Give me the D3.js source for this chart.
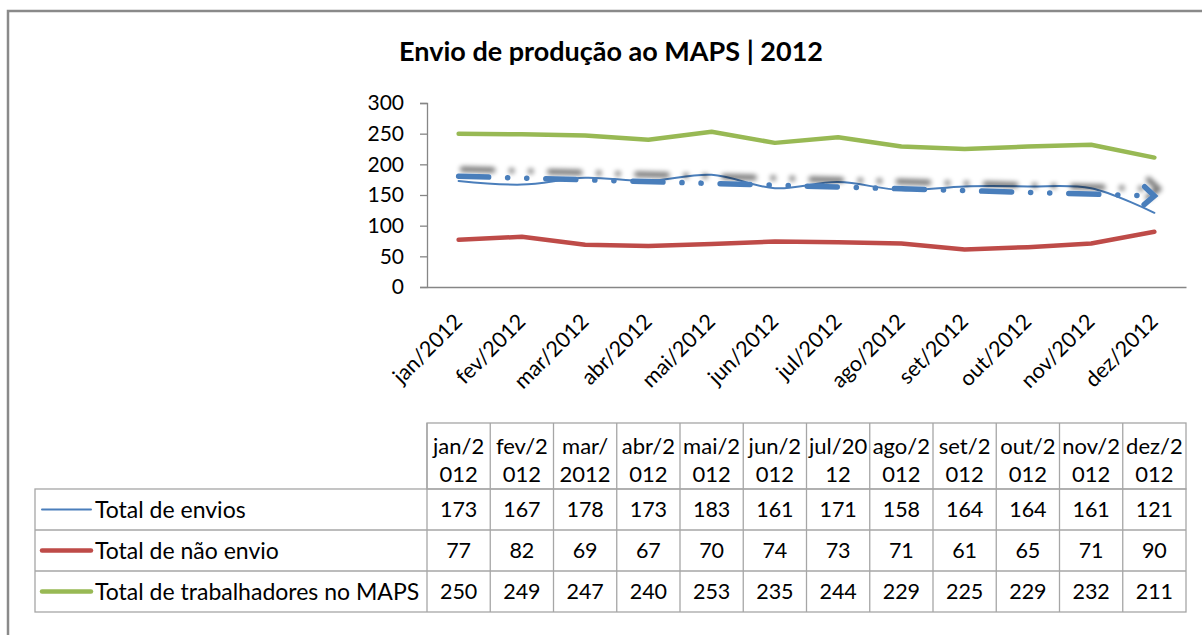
<!DOCTYPE html>
<html><head><meta charset="utf-8">
<script src="https://cdn.jsdelivr.net/npm/d3@7"></script>
<style>
html,body{margin:0;padding:0;background:#fff;}
svg{display:block;font-family:Lato, "Open Sans", sans-serif;}
</style></head>
<body>
<svg id="chart" width="1202" height="635"></svg>
<script>
const months = ["jan/2012","fev/2012","mar/2012","abr/2012","mai/2012","jun/2012","jul/2012","ago/2012","set/2012","out/2012","nov/2012","dez/2012"];
const headerTop = ["jan/2","fev/2","mar/","abr/2","mai/2","jun/2","jul/20","ago/2","set/2","out/2","nov/2","dez/2"];
const headerBottom = ["012","012","2012","012","012","012","12","012","012","012","012","012"];
const totalEnvios = [173,167,178,173,183,161,171,158,164,164,161,121];
const totalNaoEnvio = [77,82,69,67,70,74,73,71,61,65,71,90];
const totalTrabalhadores = [250,249,247,240,253,235,244,229,225,229,232,211];
const yTicks = [0,50,100,150,200,250,300];
const seriesNames = ["Total de envios","Total de não envio","Total de trabalhadores no MAPS"];
const title = "Envio de produção ao MAPS | 2012";

const colors = ["#4a7ebb","#be4b48","#98b954"];
const widths = [2,4.5,4.5];
const seriesData = [totalEnvios,totalNaoEnvio,totalTrabalhadores];

const svg = d3.select("#chart");
const defs = svg.append("defs");
const shadow = defs.append("filter").attr("id","sh").attr("x","-20%").attr("y","-200%").attr("width","140%").attr("height","500%");
shadow.append("feGaussianBlur").attr("in","SourceAlpha").attr("stdDeviation",2.5).attr("result","b");
shadow.append("feOffset").attr("in","b").attr("dx",4).attr("dy",-7).attr("result","o");
shadow.append("feComponentTransfer").attr("in","o").attr("result","o2")
  .append("feFuncA").attr("type","linear").attr("slope",0.55);
const mg = shadow.append("feMerge");
mg.append("feMergeNode").attr("in","o2");
mg.append("feMergeNode").attr("in","SourceGraphic");

// outer frame
svg.append("path").attr("d","M8,635 V11 H1202").attr("fill","none").attr("stroke","#8a8a8a").attr("stroke-width",2.5);

// title
svg.append("text").attr("x",611).attr("y",61).attr("text-anchor","middle")
  .attr("font-weight","bold").attr("font-size",27).attr("fill","#000").text(title);

const x = d3.scaleBand().domain(months).range([427,1186]);
const y = d3.scaleLinear().domain([0,300]).range([287,103]);
const cx = d => x(d) + x.bandwidth()/2;

// y axis
const yAxis = svg.append("g").attr("transform","translate(427,0)")
  .call(d3.axisLeft(y).tickValues(yTicks).tickSize(7).tickPadding(16));
yAxis.select(".domain").attr("stroke","#868686").attr("stroke-width",1.3);
yAxis.selectAll(".tick line").attr("stroke","#868686").attr("stroke-width",1.3);
yAxis.selectAll(".tick text").attr("font-size",21).attr("fill","#000").attr("font-family","Lato");

// x axis
const xAxis = svg.append("g").attr("transform","translate(0,287)")
  .call(d3.axisBottom(x).tickSize(0).tickPadding(0));
xAxis.select(".domain").attr("stroke","#868686").attr("stroke-width",1.3);
xAxis.selectAll(".tick text").attr("font-size",21.5).attr("fill","#000").attr("font-family","Lato")
  .attr("text-anchor","end").attr("dy","0")
  .attr("transform","translate(5,36) rotate(-45)");

// lines
seriesData.forEach((vals,i) => {
  const line = d3.line().x((d,j)=>cx(months[j])).y(d=>y(d));
  if (i===0) line.curve(d3.curveCatmullRom.alpha(0.5));
  svg.append("path").datum(vals).attr("d",line).attr("fill","none")
    .attr("stroke",colors[i]).attr("stroke-width",widths[i])
    .attr("stroke-linejoin","round").attr("stroke-linecap","round");
});

// linear trendline for Total de envios
const n = totalEnvios.length;
const xs = d3.range(1,n+1);
const mx = d3.mean(xs), my = d3.mean(totalEnvios);
const slope = d3.sum(xs.map((xi,i)=>(xi-mx)*(totalEnvios[i]-my))) / d3.sum(xs.map(xi=>(xi-mx)**2));
const trend = xs.map(xi => my + slope*(xi-mx));
const tg = svg.append("g").attr("filter","url(#sh)");
const x0 = cx(months[0]), x1 = cx(months[n-1]);
const y0 = y(trend[0]), y1 = y(trend[n-1]);
const ang = Math.atan2(y1-y0, x1-x0);
const ux = Math.cos(ang), uy = Math.sin(ang);
tg.append("line").attr("x1",x0).attr("y1",y0).attr("x2",x1-14*ux).attr("y2",y1-14*uy)
  .attr("stroke","#4a7ebb").attr("stroke-width",5.5).attr("stroke-linecap","round")
  .attr("stroke-dasharray","30,19,0.1,19,0.1,19");
// open chevron arrow head
const ah = 10, aw = 9;
const bx = x1 - ah*ux, by = y1 - ah*uy;
tg.append("path")
  .attr("d",`M${bx - aw*uy},${by + aw*ux} L${x1},${y1} L${bx + aw*uy},${by - aw*ux}`)
  .attr("fill","none").attr("stroke","#4a7ebb").attr("stroke-width",5.5)
  .attr("stroke-linejoin","miter").attr("stroke-linecap","round");

// data table
const gridColor = "#a6a6a6";
const tHeadTop = 423, tHeadBot = 489, rowH = 41;
const tableLeft = 35, colLeft = 427, colRight = 1186;
const tg2 = svg.append("g");
tg2.append("rect").attr("x",colLeft).attr("y",tHeadTop).attr("width",colRight-colLeft).attr("height",tHeadBot-tHeadTop)
  .attr("fill","none").attr("stroke",gridColor).attr("stroke-width",1.3);
tg2.append("rect").attr("x",tableLeft).attr("y",tHeadBot).attr("width",colRight-tableLeft).attr("height",rowH*3)
  .attr("fill","none").attr("stroke",gridColor).attr("stroke-width",1.3);
months.forEach(m => {
  tg2.append("line").attr("x1",x(m)).attr("x2",x(m)).attr("y1",tHeadTop).attr("y2",tHeadBot+rowH*3)
    .attr("stroke",gridColor).attr("stroke-width",1.3);
});
[1,2].forEach(r => {
  tg2.append("line").attr("x1",tableLeft).attr("x2",colRight).attr("y1",tHeadBot+r*rowH).attr("y2",tHeadBot+r*rowH)
    .attr("stroke",gridColor).attr("stroke-width",1.3);
});
months.forEach((m,i) => {
  tg2.append("text").attr("x",cx(m)).attr("y",454).attr("text-anchor","middle").attr("font-size",22).text(headerTop[i]);
  tg2.append("text").attr("x",cx(m)).attr("y",482).attr("text-anchor","middle").attr("font-size",22).text(headerBottom[i]);
});
seriesData.forEach((vals,r) => {
  const rowMid = tHeadBot + r*rowH + rowH/2;
  tg2.append("line").attr("x1",42).attr("x2",91).attr("y1",rowMid).attr("y2",rowMid)
    .attr("stroke",colors[r]).attr("stroke-width",widths[r]).attr("stroke-linecap","round");
  tg2.append("text").attr("x",95).attr("y",rowMid+8).attr("font-size",23).text(seriesNames[r]);
  vals.forEach((v,j) => {
    tg2.append("text").attr("x",cx(months[j])).attr("y",rowMid+7.5).attr("text-anchor","middle").attr("font-size",21.5).text(v);
  });
});
</script>
</body></html>
